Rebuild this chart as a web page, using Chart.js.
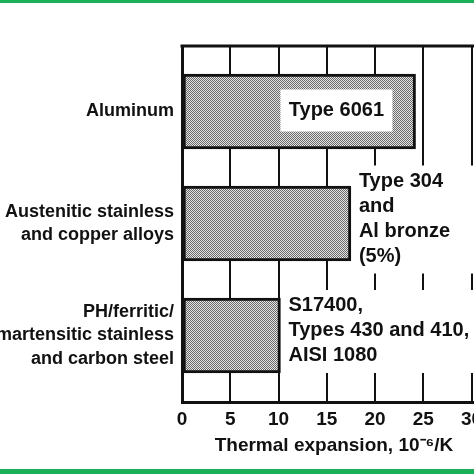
<!DOCTYPE html>
<html>
<head>
<meta charset="utf-8">
<script src="https://cdn.jsdelivr.net/npm/chart.js@4.4.0/dist/chart.umd.min.js"></script>
<style>
  html, body { margin: 0; padding: 0; width: 474px; height: 474px; overflow: hidden; background: #fff; }
  #wrap { position: absolute; left: 0; top: 0; width: 500px; height: 474px; }
  .green { position: absolute; left: 0; width: 474px; background: #1bb05a; z-index: 2; }
</style>
</head>
<body>
<div class="green" style="top:0;height:3px"></div>
<div class="green" style="top:469px;height:5px"></div>
<div id="wrap"><canvas id="c" width="500" height="474"></canvas></div>
<script>
// ---- data ----
const categories = [
  ["Aluminum"],
  ["Austenitic stainless", "and copper alloys"],
  ["PH/ferritic/", "martensitic stainless", "and carbon steel"]
];
const expansion = [24.2, 17.5, 10.2];          // 10^-6 / K
const barNotes = [
  ["Type 6061"],
  ["Type 304", "and", "Al bronze", "(5%)"],
  ["S17400,", "Types 430 and 410,", "AISI 1080"]
];
const insideNoteAt = 16.0;                      // value where "Type 6061" label sits inside bar
const xTicks = [0, 5, 10, 15, 20, 25, 30];
const xMax = 31.5;
const axisTitle = "Thermal expansion, 10\u207B\u2076/K";

// ---- stipple pattern ----
function makePattern() {
  const p = document.createElement('canvas');
  p.width = 2; p.height = 2;
  const g = p.getContext('2d');
  g.fillStyle = '#e4e4e4'; g.fillRect(0, 0, 2, 2);
  g.fillStyle = '#6a6a6a'; g.fillRect(0, 0, 1, 1); g.fillRect(1, 1, 1, 1);
  return document.getElementById('c').getContext('2d').createPattern(p, 'repeat');
}

const FONT = "'Liberation Sans', Arial, Helvetica, sans-serif";

const notesPlugin = {
  id: 'notes',
  afterDatasetsDraw(chart) {
    const ctx = chart.ctx;
    const area = chart.chartArea;
    const xs = chart.scales.x;
    const meta = chart.getDatasetMeta(0);
    ctx.save();
    // top frame line
    ctx.strokeStyle = '#111'; ctx.lineWidth = 3;
    ctx.beginPath(); ctx.moveTo(area.left - 1.5, area.top); ctx.lineTo(chart.width, area.top); ctx.stroke();

    ctx.font = "bold 20px " + FONT;
    ctx.textBaseline = 'middle';
    ctx.fillStyle = '#111';
    const lh = 25;
    barNotes.forEach((lines, i) => {
      const bar = meta.data[i];
      if (i === 0) {
        const cx = xs.getPixelForValue(insideNoteAt);
        const cy = bar.y - 1;
        const w = 112, h = 42;
        ctx.fillStyle = '#fff';
        ctx.fillRect(cx - w / 2, cy - h / 2, w, h);
        ctx.fillStyle = '#111';
        ctx.textAlign = 'center';
        ctx.fillText(lines[0], cx, cy);
      } else {
        const n = lines.length;
        const firstY = bar.y - 4.5 - (n - 1) * lh / 2;
        const lastY = firstY + (n - 1) * lh;
        const left = bar.x + 3;
        ctx.fillStyle = '#fff';
        ctx.fillRect(left, firstY - 16, chart.width - left, (lastY + 17) - (firstY - 16));
        ctx.fillStyle = '#111';
        ctx.textAlign = 'left';
        lines.forEach((t, k) => ctx.fillText(t, bar.x + 8, firstY + k * lh));
      }
    });
    ctx.restore();
  }
};

const chart = new Chart(document.getElementById('c'), {
  type: 'bar',
  data: {
    datasets: [{
      data: expansion.map((v, i) => ({ x: v, y: i })),
      backgroundColor: makePattern(),
      borderColor: '#111',
      borderWidth: 3,
      borderSkipped: false,
      barThickness: 75
    }]
  },
  options: {
    indexAxis: 'y',
    responsive: false,
    animation: false,
    devicePixelRatio: 1,
    layout: { padding: { top: 46, right: 14, left: 0, bottom: 0 } },
    plugins: { legend: { display: false }, tooltip: { enabled: false } },
    scales: {
      x: {
        type: 'linear',
        min: 0, max: xMax,
        afterBuildTicks(s) { s.ticks = xTicks.map(v => ({ value: v })); },
        afterFit(s) { s.height = 72; },
        grid: { color: '#111', lineWidth: 2, drawTicks: false },
        border: { display: true, color: '#111', width: 3 },
        ticks: { color: '#111', font: { family: FONT, size: 19, weight: 'bold' }, padding: 6, maxRotation: 0 },
        title: {
          display: true, text: axisTitle, color: '#111',
          font: { family: FONT, size: 19, weight: 'bold' },
          padding: { top: 4, bottom: 17 }
        }
      },
      y: {
        type: 'linear',
        reverse: true,
        offset: false,
        min: -0.585, max: 2.594,
        afterBuildTicks(s) { s.ticks = categories.map((c, i) => ({ value: i })); },
        afterFit(s) { s.width = 182; },
        grid: { display: false, drawTicks: false },
        border: { display: true, color: '#111', width: 3 },
        ticks: {
          color: '#111',
          font: { family: FONT, size: 18, weight: 'bold', lineHeight: 1.3 },
          padding: 8,
          callback: (v) => categories[v]
        }
      }
    }
  },
  plugins: [notesPlugin]
});
</script>
</body>
</html>
